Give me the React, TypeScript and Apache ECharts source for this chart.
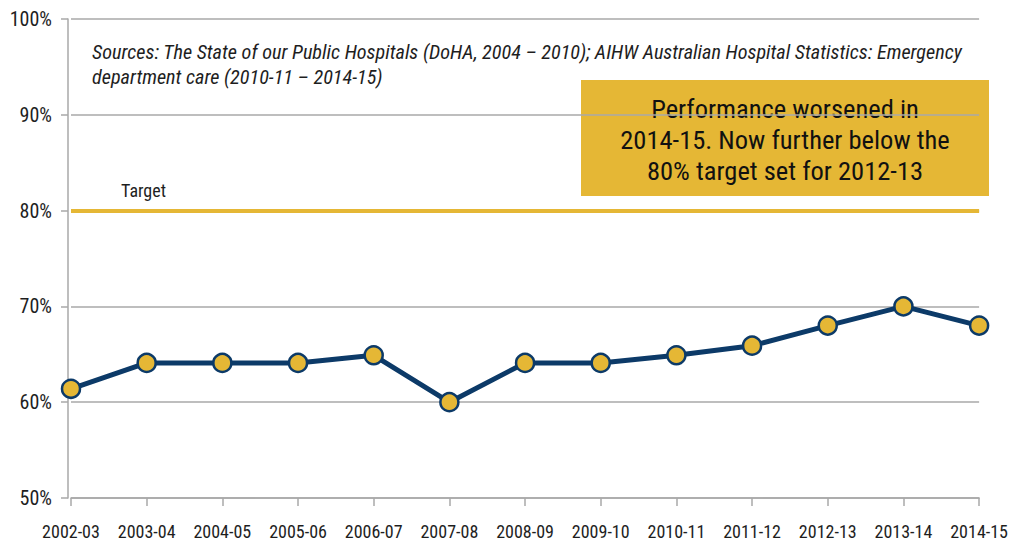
import React, { useEffect, useRef } from "react";
import * as echarts from "echarts";

const categories = ["2002-03", "2003-04", "2004-05", "2005-06", "2006-07", "2007-08", "2008-09", "2009-10", "2010-11", "2011-12", "2012-13", "2013-14", "2014-15"];
const performance = [61.4, 64.1, 64.1, 64.1, 64.9, 60.0, 64.1, 64.1, 64.9, 65.9, 68.0, 70.0, 68.0];
const target = 80;
const yTicks = { min: 50, max: 100, interval: 10 };
const sourceLines = [
  "Sources: The State of our Public Hospitals (DoHA, 2004 \u2013 2010); AIHW Australian Hospital Statistics: Emergency",
  "department care (2010-11 \u2013 2014-15)",
];
const annotation = ["Performance worsened in", "2014-15. Now further below the", "80% target set for 2012-13"];

const FONT = "'Liberation Sans Narrow', 'Arial Narrow', 'Roboto Condensed', 'Liberation Sans', sans-serif";
const NAVY = "#0c3a68";
const GOLD = "#e5b735";
const GRID = "#a8a8a8";

export default function App() {
  const ref = useRef<HTMLDivElement>(null);
  useEffect(() => {
    if (!ref.current) return;
    const chart = echarts.init(ref.current, null, { renderer: "svg" });
    chart.setOption({
      animation: false,
      backgroundColor: "#ffffff",
      grid: { left: 71, right: 27, top: 19, bottom: 44, containLabel: false },
      xAxis: {
        type: "category",
        data: categories,
        boundaryGap: false,
        axisLine: { lineStyle: { color: GRID, width: 1.5 } },
        axisTick: { show: true, length: 8, alignWithLabel: true, interval: 0, lineStyle: { color: GRID, width: 1.5 } },
        axisLabel: { color: "#1e1e1e", fontFamily: FONT, fontSize: 18, margin: 24, interval: 0 },
        splitLine: { show: false },
      },
      yAxis: {
        type: "value",
        min: yTicks.min,
        max: yTicks.max,
        interval: yTicks.interval,
        offset: 3,
        axisLine: { show: true, lineStyle: { color: GRID, width: 1.5 } },
        axisTick: { show: true, length: 7, lineStyle: { color: GRID, width: 1.5 } },
        axisLabel: { color: "#1e1e1e", fontFamily: FONT, fontSize: 20, margin: 16, formatter: "{value}%" },
        splitLine: { show: true, lineStyle: { color: GRID, width: 1.5 } },
      },
      series: [
        {
          type: "line",
          data: performance,
          symbol: "circle",
          symbolSize: 18,
          lineStyle: { color: NAVY, width: 5 },
          itemStyle: { color: GOLD, borderColor: NAVY, borderWidth: 2.5 },
          z: 5,
          markLine: {
            silent: true,
            symbol: ["none", "none"],
            label: { show: false },
            lineStyle: { color: GOLD, width: 4, type: "solid" },
            data: [{ yAxis: target }],
            z: 3,
          },
        },
      ],
      graphic: [
        {
          type: "text",
          left: 92,
          top: 39,
          style: {
            text: sourceLines.join("\n"),
            fontFamily: FONT,
            fontStyle: "italic",
            fontSize: 20.2,
            lineHeight: 25,
            fill: "#1e1e1e",
          },
        },
        {
          type: "text",
          left: 121,
          top: 181,
          style: { text: "Target", fontFamily: FONT, fontSize: 18, fill: "#1e1e1e" },
        },
        {
          type: "group",
          left: 581,
          top: 80,
          children: [
            { type: "rect", shape: { x: 0, y: 0, width: 408, height: 116 }, style: { fill: GOLD } },
            {
              type: "text",
              x: 204,
              y: 59,
              style: {
                text: annotation.join("\n"),
                fontFamily: FONT,
                fontSize: 26.5,
                lineHeight: 31,
                fill: "#111111",
                align: "center",
                verticalAlign: "middle",
              },
            },
          ],
        },
      ],
    });
    return () => chart.dispose();
  }, []);
  return <div ref={ref} style={{ position: "fixed", left: 0, top: 0, width: 1011, height: 542 }} />;
}
